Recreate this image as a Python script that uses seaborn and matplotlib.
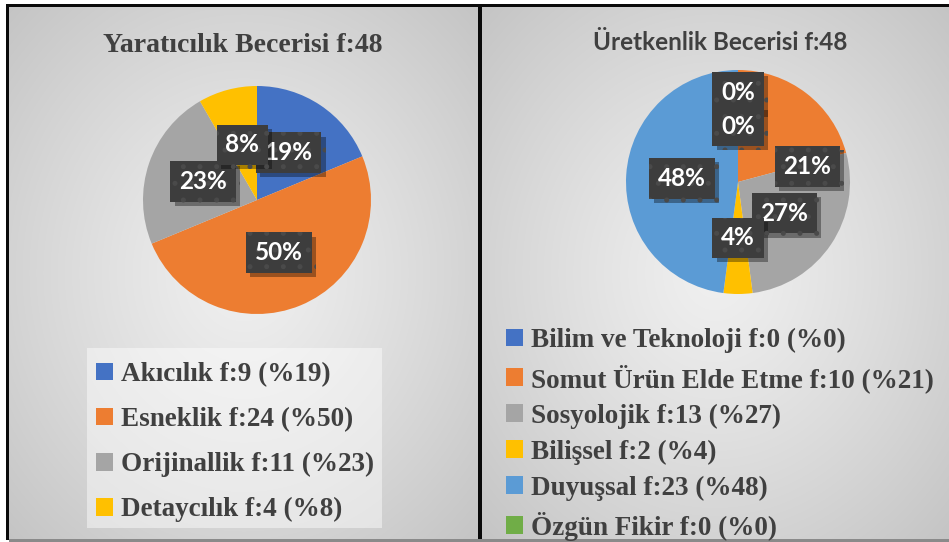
import numpy as np
import pandas as pd
import seaborn as sns
import matplotlib
matplotlib.use("Agg")
import matplotlib.pyplot as plt
from matplotlib.patches import Patch, Rectangle
import matplotlib.patheffects as pe

# ---------------- data ----------------
left_title = "Yaratıcılık Becerisi f:48"
left_categories = ["Akıcılık", "Esneklik", "Orijinallik", "Detaycılık"]
left_counts = [9, 24, 11, 4]
left_pcts = [19, 50, 23, 8]

right_title = "Üretkenlik Becerisi f:48"
right_categories = ["Bilim ve Teknoloji", "Somut Ürün Elde Etme", "Sosyolojik",
                    "Bilişsel", "Duyuşsal", "Özgün Fikir"]
right_counts = [0, 10, 13, 2, 23, 0]
right_pcts = [0, 21, 27, 4, 48, 0]

# ---------------- style ----------------
sns.set_theme(style="white")
plt.rcParams["font.family"] = ["Lato", "DejaVu Sans"]
plt.rcParams["hatch.linewidth"] = 1.2

left_colors = sns.color_palette(["#4472C4", "#ED7D31", "#A5A5A5", "#FFC000"])
right_colors = sns.color_palette(["#4472C4", "#ED7D31", "#A5A5A5", "#FFC000", "#5B9BD5", "#70AD47"])

W, H = 949, 542
fig = plt.figure(figsize=(W / 100, H / 100), dpi=100, facecolor="white")


def fx(x):
    return x / W


def fy(y):
    return 1 - y / H


def panel_bg(x0, x1, y0, y1):
    ax = fig.add_axes([fx(x0), fy(y1), fx(x1 - x0), (y1 - y0) / H], zorder=0)
    w, h = int(x1 - x0), int(y1 - y0)
    xx, yy = np.meshgrid(np.linspace(-1, 1, w), np.linspace(-1, 1, h))
    d = np.sqrt(xx ** 2 + yy ** 2) / np.sqrt(2)
    v = 0.94 - 0.17 * d ** 1.2
    img = np.dstack([v, v, v])
    ax.imshow(img, extent=(0, 1, 0, 1), aspect="auto", interpolation="bilinear")
    ax.set_axis_off()
    return ax


panel_bg(9, 478, 7, 539)
panel_bg(481, 949, 7, 539)


def frect(x0, y0, x1, y1, color):
    fig.add_artist(Rectangle((fx(x0), fy(y1)), fx(x1 - x0), (y1 - y0) / H,
                             transform=fig.transFigure, facecolor=color,
                             edgecolor="none", zorder=5))


frect(6, 4, 9, 540, "#0a0a0a")
frect(6, 4, 949, 7, "#0a0a0a")
frect(478, 4, 482, 540, "#0a0a0a")
frect(9, 539, 949, 542, "#8a8a8a")

# ---------------- pies ----------------
def draw_pie(cx, cy, R, counts, colors, overrides):
    ax = fig.add_axes([fx(cx - R), fy(cy + R), 2 * R / W, 2 * R / H], zorder=2)
    wedges, texts, autotexts = ax.pie(
        counts, colors=colors, startangle=90, counterclock=False,
        autopct=lambda p: f"{p:.0f}%", pctdistance=0.5,
        wedgeprops=dict(linewidth=0),
        textprops=dict(color="white", fontsize=17.5, fontweight="bold",
                       family=["Lato", "DejaVu Sans"]))
    ax.set_xlim(-1, 1)
    ax.set_ylim(-1, 1)
    for i, t in enumerate(autotexts):
        if i in overrides:
            t.set_position(overrides[i])
        t.set_ha("center")
        t.set_va("center")
        t.set_bbox(dict(boxstyle="square,pad=0.36", facecolor="#3d3d3d",
                        edgecolor="#4a4a4a", linewidth=0, hatch="."))
        t.get_bbox_patch().set_path_effects(
            [pe.withSimplePatchShadow(offset=(3, -3), shadow_rgbFace="black", alpha=0.35),
             pe.Normal()])
        t.set_zorder(4)
    return ax


draw_pie(257, 200, 114, left_counts, left_colors, {})
draw_pie(738, 182, 112, right_counts, right_colors, {0: (0.0, 0.8), 1: (0.62, 0.14)})

# ---------------- titles ----------------
fig.text(fx(243), fy(45), left_title, ha="center", va="center", fontsize=20,
         fontweight="bold", color="#404040", family=["Liberation Serif", "DejaVu Serif"],
         zorder=6)
fig.text(fx(720), fy(42), right_title, ha="center", va="center", fontsize=17.5,
         fontweight="bold", color="#404040", family=["Lato", "DejaVu Sans"], zorder=6)

# ---------------- legends ----------------
legend_font = dict(family=["Liberation Serif", "DejaVu Serif"], weight="bold", size=19.5)

frect(87, 348, 382, 528, (1, 1, 1, 0.45))

left_handles = [Patch(facecolor=c, edgecolor="none") for c in left_colors]
left_labels = [f"{c} f:{n} (%{p})" for c, n, p in zip(left_categories, left_counts, left_pcts)]
leg1 = fig.legend(left_handles, left_labels, loc="upper left",
                  bbox_to_anchor=(fx(96), fy(362)), frameon=False, prop=legend_font,
                  handlelength=0.63, handleheight=0.63, handletextpad=0.3,
                  labelspacing=0.74, borderpad=0, borderaxespad=0)
for t in leg1.get_texts():
    t.set_color("#404040")
leg1.set_zorder(7)

right_handles = [Patch(facecolor=c, edgecolor="none") for c in right_colors]
right_labels = [f"{c} f:{n} (%{p})" for c, n, p in zip(right_categories, right_counts, right_pcts)]
leg2 = fig.legend(right_handles, right_labels, loc="upper left",
                  bbox_to_anchor=(fx(506), fy(328)), frameon=False, prop=legend_font,
                  handlelength=0.63, handleheight=0.63, handletextpad=0.3,
                  labelspacing=0.40, borderpad=0, borderaxespad=0)
for t in leg2.get_texts():
    t.set_color("#404040")
leg2.set_zorder(7)

fig.savefig("out.png", dpi=100, facecolor="white")
